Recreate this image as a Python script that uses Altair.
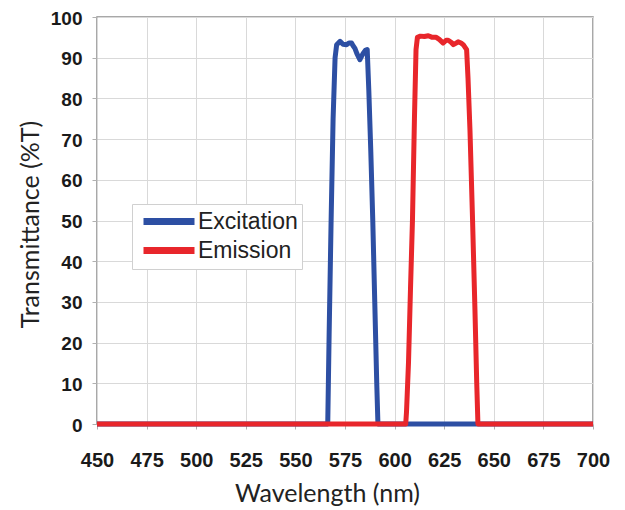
import altair as alt
import pandas as pd

# Excitation filter transmittance
exc_wl = [450, 565, 566.3, 567, 568, 569, 570, 570.8, 572.5, 574, 575.8, 577, 578.3, 579,
          580, 581, 582.5, 583.5, 584.2, 585.3, 586.2, 587, 588, 589, 590, 591, 591.6, 700]
exc_t = [0, 0, 0, 22, 50, 75, 90, 93.2, 94, 93.3, 93.2, 93.6, 93.6, 93, 92.3, 91, 89.5,
         90.5, 91.1, 91.8, 92, 82, 67, 50, 30, 10, 0, 0]

# Emission filter transmittance
em_wl = [450, 605.6, 606, 607, 608, 609, 610, 610.8, 611.5, 613, 615, 617, 619, 621, 622.5,
         624.5, 626, 627, 628.5, 629.6, 631, 632, 633.5, 634.6, 636.3, 637, 638, 639.3, 640.5,
         641.4, 642, 700]
em_t = [0, 0, 3, 15, 33, 50, 75, 92, 95, 95.3, 95.2, 95.4, 95, 95, 94.5, 93.6, 94.3, 94.3,
        93.8, 93.2, 93.6, 93.9, 93.6, 93.2, 92, 85, 72, 50, 28, 10, 0, 0]

series = ["Excitation", "Emission"]
colors = ["#2d4fa3", "#e8262b"]
x_ticks = list(range(450, 701, 25))
y_ticks = list(range(0, 101, 10))

exc = pd.DataFrame({"wl": exc_wl, "t": exc_t, "s": series[0]})
em = pd.DataFrame({"wl": em_wl, "t": em_t, "s": series[1]})

x_enc = alt.X("wl:Q", scale=alt.Scale(domain=[450, 700], nice=False, zero=False),
              axis=alt.Axis(values=x_ticks, title="Wavelength (nm)", format="d",
                            titleX=230, titleY=77, titleAlign="center", titleBaseline="alphabetic",
                            labelFontSize=20,
                            labelPadding=21, labelFlush=False, labelOverlap=False))
y_enc = alt.Y("t:Q", scale=alt.Scale(domain=[0, 100], nice=False),
              axis=alt.Axis(values=y_ticks, title="Transmittance (%T)",
                            titleX=-67, titleY=207, titleAlign="center", titleBaseline="middle",
                            labelFontSize=19, labelOffset=1,
                            labelPadding=10, labelFlush=False, labelOverlap=False))
color_enc = alt.Color("s:N", scale=alt.Scale(domain=series, range=colors),
                      legend=alt.Legend(title=None, orient="none", legendX=35, legendY=187,
                                        symbolType="M-0.6,0H4.5", symbolSize=400,
                                        symbolStrokeWidth=7, labelFontSize=23,
                                        labelFont="Liberation Sans", labelColor="#222",
                                        padding=4, rowPadding=0, labelOffset=35,
                                        strokeColor="#d0d0d0", fillColor="white"))

base = dict(strokeWidth=5, strokeCap="butt", strokeJoin="round")
l1 = alt.Chart(exc).mark_line(**base).encode(x=x_enc, y=y_enc, color=color_enc, order="wl:Q")
l2 = alt.Chart(em).mark_line(**base).encode(x=x_enc, y=y_enc, color=color_enc, order="wl:Q")

chart = alt.layer(l1, l2).properties(
    width=496, height=407,
    autosize=alt.AutoSizeParams(type="none"),
    padding={"left": 89, "top": 9, "right": 24, "bottom": 86},
).configure_view(
    stroke="#8c8c8c", strokeWidth=1.5
).configure_axis(
    domain=False, grid=True, gridColor="#d9d9d9", gridWidth=1,
    tickColor="#b0b0b0", tickSize=5,
    labelFont="Liberation Sans", labelFontWeight="bold",
    labelColor="#1a1a1a",
    titleFont="Lato", titleFontWeight="normal", titleFontSize=25, titleColor="#222",
)

chart.save("out.html", embed_options={"renderer": "svg", "actions": False})
